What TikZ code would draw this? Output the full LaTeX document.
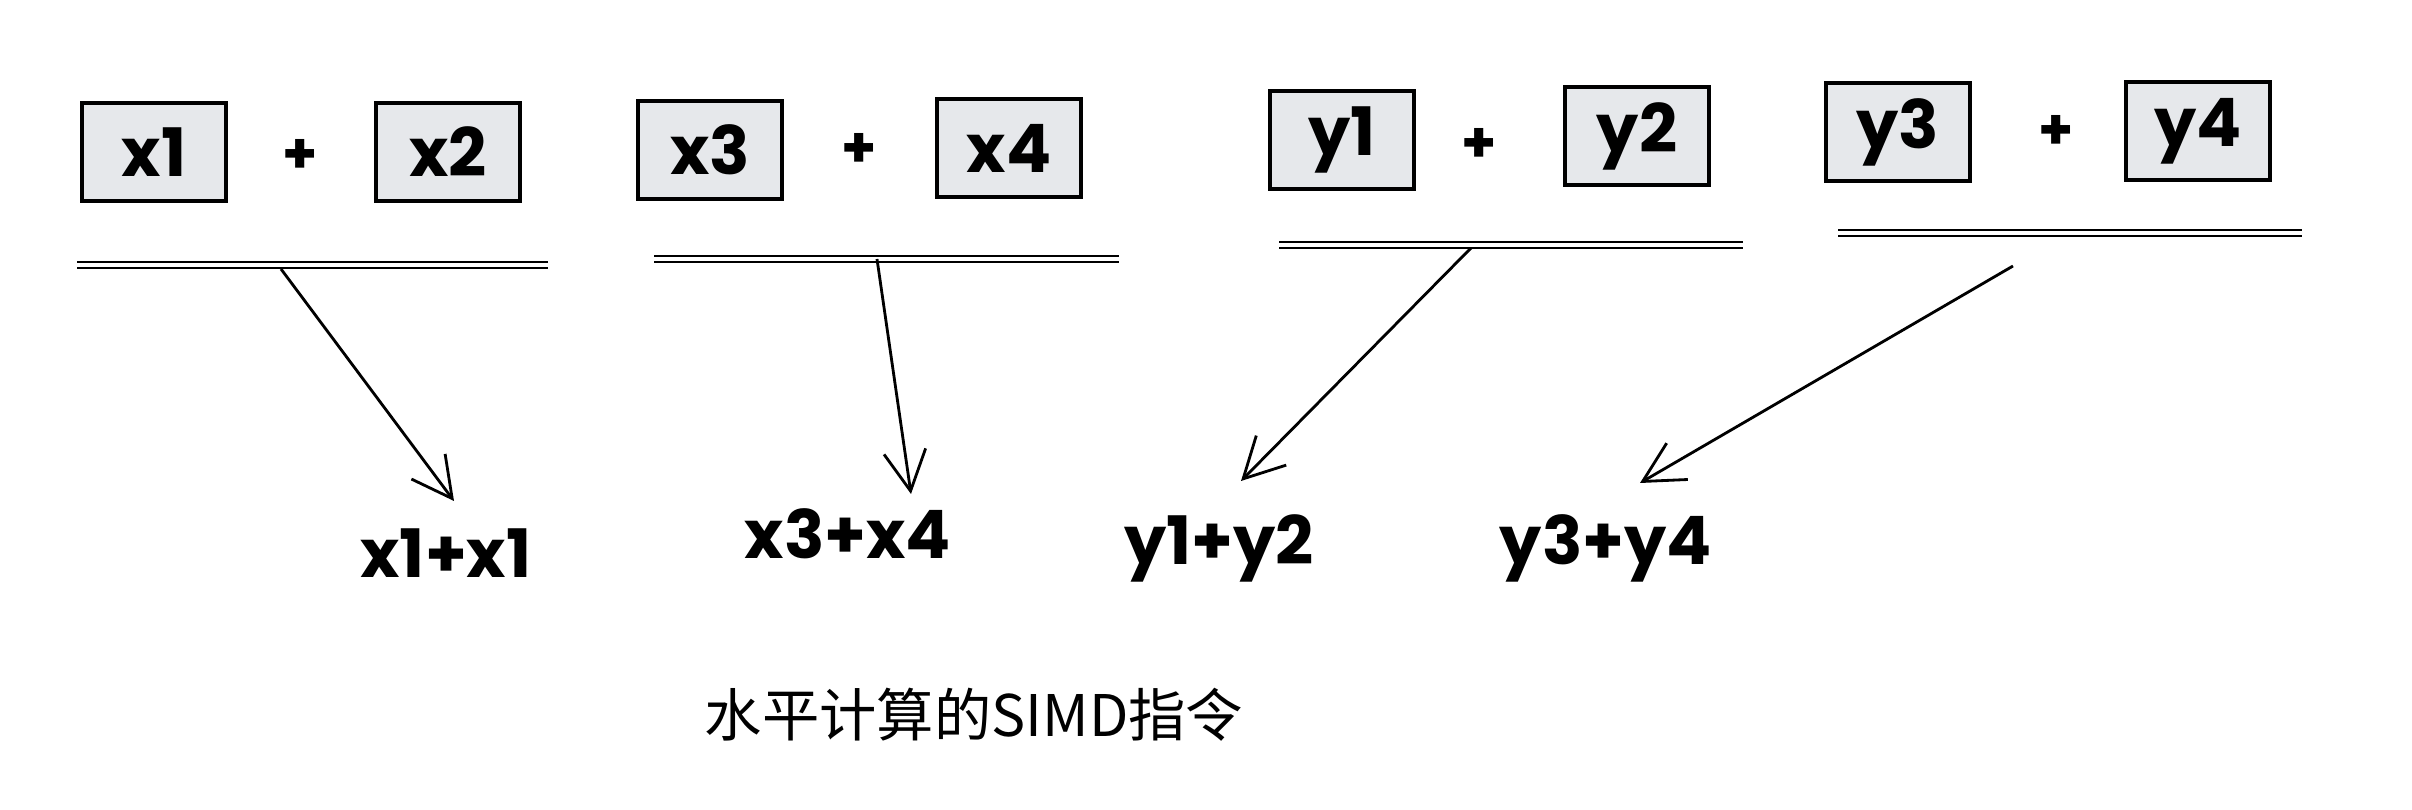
\documentclass[tikz,border=0pt]{standalone}
\usepackage{fontspec}
\setmainfont{Poppins}
\newfontfamily\cjk{Noto Sans CJK SC}
\usetikzlibrary{arrows.meta}
\definecolor{regfill}{HTML}{E6E8EB}
\begin{document}
\begin{tikzpicture}[
		x=0.01cm, y=-0.01cm,
		reg/.style={draw, line width=1.2pt, fill=regfill, minimum width=1.44cm, minimum height=0.98cm, font=\bfseries\fontsize{19}{22}\selectfont},
		op/.style={font=\bfseries\fontsize{16}{18}\selectfont},
		rule/.style={double, double distance=1.3pt, line width=0.5pt},
		res/.style={font=\bfseries\fontsize{19}{22}\selectfont},
		arr/.style={line width=0.8pt, -{Straight Barb[length=0.4cm, width=0.42cm]}}
	]
	\useasboundingbox (0,0) rectangle (2412,810);
	\node[reg] (x1) at (154,152) {x1};
	\node[op] (p1) at (300,156) {+};
	\node[reg] (x2) at (448,152) {x2};
	\node[reg] (x3) at (710,150) {x3};
	\node[op] (p2) at (859,150) {+};
	\node[reg] (x4) at (1009,148) {x4};
	\node[reg] (y1) at (1342,140) {y1};
	\node[op] (p3) at (1479,145) {+};
	\node[reg] (y2) at (1637,136) {y2};
	\node[reg] (y3) at (1898,132) {y3};
	\node[op] (p4) at (2056,132) {+};
	\node[reg] (y4) at (2198,131) {y4};
	\coordinate (l1a) at (77,265);
	\coordinate (l1b) at (548,265);
	\coordinate (l2a) at (654,259);
	\coordinate (l2b) at (1119,259);
	\coordinate (l3a) at (1279,245);
	\coordinate (l3b) at (1743,245);
	\coordinate (l4a) at (1838,233);
	\coordinate (l4b) at (2302,233);
	\draw[rule] (l1a) -- (l1b);
	\draw[rule] (l2a) -- (l2b);
	\draw[rule] (l3a) -- (l3b);
	\draw[rule] (l4a) -- (l4b);
	\node[res] (r1) at (446,553) {x1+x1};
	\node[res] (r2) at (848,534) {x3+x4};
	\node[res] (r3) at (1219,548) {y1+y2};
	\node[res] (r4) at (1606,548) {y3+y4};
	\coordinate (s1) at (281,269);
	\coordinate (t1) at (454,501);
	\coordinate (s2) at (877,259);
	\coordinate (t2) at (911,494);
	\coordinate (s3) at (1471,248);
	\coordinate (t3) at (1241,481);
	\coordinate (s4) at (2013,266);
	\coordinate (t4) at (1640,483);
	\draw[arr] (s1) -- (t1);
	\draw[arr] (s2) -- (t2);
	\draw[arr] (s3) -- (t3);
	\draw[arr] (s4) -- (t4);
	\node[font=\cjk\fontsize{16.3}{19}\selectfont] (title) at (974,715) {水平计算的SIMD指令};
\end{tikzpicture}
\end{document}
